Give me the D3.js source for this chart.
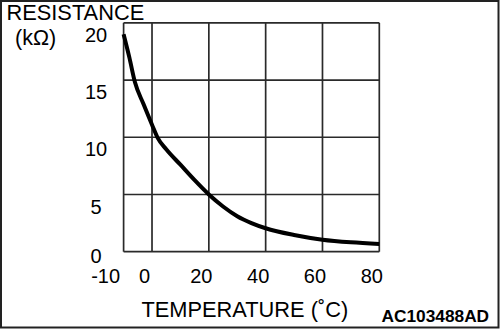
<!DOCTYPE html>
<html><head><meta charset="utf-8">
<script src="https://cdn.jsdelivr.net/npm/d3@7"></script>
<style>html,body{margin:0;padding:0;background:#fff}svg{display:block}</style>
</head><body>
<script>
const temps = [-10, -8, -6, -3, 0, 2, 5, 10, 15, 20, 25, 30, 35, 40, 50, 60, 70, 80];
const resistance = [19.0, 17.0, 14.8, 12.9, 11.1, 9.95, 8.95, 7.6, 6.25, 5.0, 3.95, 3.1, 2.5, 2.05, 1.46, 1.05, 0.82, 0.68];
const xTicks = [-10, 0, 20, 40, 60, 80];
const yTicks = [0, 5, 10, 15, 20];
const yTitle = "RESISTANCE";
const yUnit = "(kΩ)";
const xTitle = "TEMPERATURE (˚C)";
const code = "AC103488AD";

const W = 500, H = 329;
const svg = d3.select("body").append("svg").attr("width", W).attr("height", H);
const font = "Liberation Sans, Arial, Helvetica, sans-serif";

svg.append("rect").attr("x", 1).attr("y", 1).attr("width", 497.5).attr("height", 326.5)
  .attr("fill", "#fff").attr("stroke", "#222").attr("stroke-width", 2);

const x = d3.scaleLinear().domain([-10, 80]).range([123.6, 379.3]);
const y = d3.scaleLinear().domain([0, 20]).range([251.7, 22.8]);

const grid = svg.append("g").attr("stroke", "#2a2a2a").attr("stroke-width", 1.7);
grid.selectAll("line.v").data(xTicks).join("line").attr("class", "v")
  .attr("x1", d => x(d)).attr("x2", d => x(d)).attr("y1", y(20)).attr("y2", y(0));
grid.selectAll("line.h").data(yTicks).join("line").attr("class", "h")
  .attr("y1", d => y(d)).attr("y2", d => y(d)).attr("x1", x(-10)).attr("x2", x(80));

const pts = temps.map((t, i) => [t, resistance[i]]);
svg.append("path").datum(pts)
  .attr("d", d3.line().x(d => x(d[0])).y(d => y(d[1])).curve(d3.curveMonotoneX))
  .attr("fill", "none").attr("stroke", "#000").attr("stroke-width", 4).attr("stroke-linecap", "butt");

svg.selectAll("text.yt").data(yTicks).join("text").attr("class", "yt")
  .attr("x", 96).attr("y", d => y(d) + (d === 0 ? 11.5 : 19.2))
  .attr("text-anchor", "middle").attr("font-family", font).attr("font-size", 20).text(d => d);

svg.selectAll("text.xt").data(xTicks).join("text").attr("class", "xt")
  .attr("x", d => d === -10 ? x(d) - 3.5 : x(d) - 7.5).attr("y", 283)
  .attr("text-anchor", d => d === -10 ? "end" : "middle")
  .attr("font-family", font).attr("font-size", 20).text(d => d);

svg.append("text").attr("x", 6.5).attr("y", 20).attr("font-family", font).attr("font-size", 21.8).text(yTitle);
svg.append("text").attr("x", 15).attr("y", 45).attr("font-family", font).attr("font-size", 21.5).text(yUnit);
svg.append("text").attr("x", 141.5).attr("y", 317).attr("font-family", font).attr("font-size", 21.8).text(xTitle);
svg.append("text").attr("x", 381.5).attr("y", 321.7).attr("font-family", font).attr("font-weight", "bold").attr("font-size", 17.3).text(code);
</script>
</body></html>
